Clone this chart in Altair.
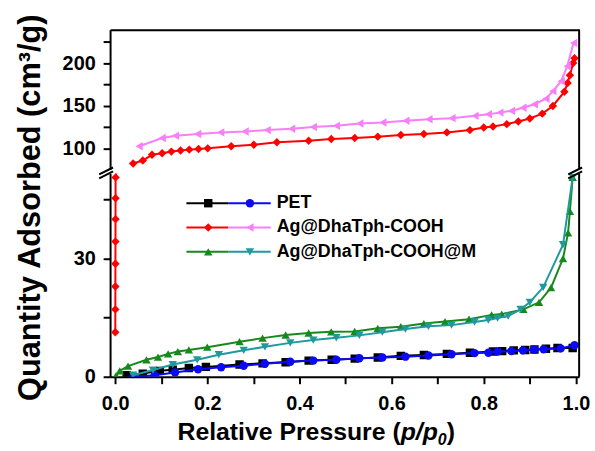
import altair as alt
import pandas as pd

# ---- isotherm data: relative pressure p/p0 and quantity adsorbed (cm3/g) ----
# PET
pet_ads_p = [0.025, 0.06, 0.097, 0.125, 0.16, 0.197, 0.27, 0.32, 0.37, 0.42, 0.47, 0.52, 0.57,
             0.62, 0.67, 0.72, 0.77, 0.82, 0.84, 0.865, 0.89, 0.91, 0.935, 0.96, 0.993]
pet_ads_v = [0.4, 0.8, 1.5, 1.8, 2.2, 2.5, 3.1, 3.4, 3.7, 4.1, 4.3, 4.6, 4.9,
             5.3, 5.5, 5.8, 6.1, 6.4, 6.5, 6.7, 6.8, 6.9, 7.1, 7.3, 7.3]
pet_des_p = [0.997, 0.967, 0.93, 0.91, 0.885, 0.86, 0.83, 0.81, 0.78, 0.73, 0.68, 0.63, 0.58,
             0.53, 0.48, 0.43, 0.38, 0.325, 0.279, 0.23, 0.18, 0.13, 0.086, 0.04]
pet_des_v = [8.0, 7.2, 7.0, 6.9, 6.7, 6.5, 6.4, 6.1, 6.0, 5.7, 5.4, 5.1, 4.9,
             4.7, 4.3, 4.1, 3.8, 3.3, 2.8, 2.4, 1.9, 1.1, 0.4, 0.0]

# Ag@DhaTph-COOH
ag_ads_p = [0.0003, 0.0004, 0.0005, 0.0006, 0.0007, 0.0008, 0.0009, 0.001,
            0.039, 0.06, 0.08, 0.102, 0.122, 0.142, 0.161, 0.181, 0.201, 0.252, 0.301, 0.351,
            0.42, 0.469, 0.52, 0.57, 0.62, 0.67, 0.72, 0.77, 0.80, 0.82, 0.85, 0.875, 0.90,
            0.927, 0.95, 0.975, 0.982, 0.987, 0.994, 0.997]
ag_ads_v = [11.3, 17.1, 22.9, 28.7, 34.3, 40.0, 45.3, 50.6,
            82.5, 86, 92.7, 94.6, 96.5, 97.7, 98.8, 99.6, 100.3, 102.7, 104.6, 107.4,
            109.3, 111.3, 112.4, 114, 115.9, 117.1, 119, 121.7, 124.8, 126, 128.7, 131.8, 135.3,
            141, 150, 166.7, 177, 186, 200.4, 206]
ag_des_p = [0.995, 0.981, 0.968, 0.95, 0.935, 0.91, 0.885, 0.86, 0.835, 0.81, 0.781, 0.731,
            0.681, 0.631, 0.581, 0.531, 0.48, 0.43, 0.383, 0.33, 0.282, 0.229, 0.179, 0.131,
            0.102, 0.052]
ag_des_v = [224, 196.5, 179, 167.4, 158.5, 152, 148, 144.2, 142.2, 140.3, 138.4, 135.7,
            134.5, 132.6, 130.6, 129.5, 126.7, 125.2, 123.2, 121.7, 120.1, 119, 117.1, 115.1,
            112.4, 102.7]

# Ag@DhaTph-COOH@M
agm_ads_p = [0.002, 0.01, 0.028, 0.068, 0.093, 0.115, 0.136, 0.16, 0.2, 0.27, 0.32, 0.37,
             0.42, 0.469, 0.52, 0.57, 0.62, 0.67, 0.716, 0.768, 0.817, 0.839, 0.886, 0.92,
             0.946, 0.972, 0.983, 0.987, 0.993]
agm_ads_v = [0.3, 1.5, 2.7, 4.3, 5.0, 5.8, 6.4, 6.8, 7.5, 8.9, 9.8, 10.6,
             11.1, 11.4, 11.5, 12.3, 12.7, 13.5, 14.0, 14.6, 15.7, 15.9, 17.1, 18.9,
             22.6, 30.0, 36.5, 42.0, 50.6]
agm_des_p = [0.993, 0.972, 0.929, 0.9, 0.88, 0.853, 0.83, 0.81, 0.78, 0.73, 0.68, 0.63,
             0.58, 0.53, 0.48, 0.43, 0.38, 0.325, 0.279, 0.225, 0.178, 0.125, 0.082, 0.039]
agm_des_v = [50.6, 33.5, 22.7, 18.9, 17.1, 15.4, 14.9, 14.4, 13.9, 13.1, 12.8, 12.1,
             11.3, 10.5, 9.9, 9.3, 8.6, 7.6, 6.7, 5.6, 4.3, 3.1, 1.7, 0.4]

legend_labels = ["PET", "Ag@DhaTph-COOH", "Ag@DhaTph-COOH@M"]

# ---- styling ----
FONT = "Liberation Sans"
BLACK, BLUE, RED, PINK, GREEN, TEAL = "#000000", "#0a0af5", "#ff0000", "#f77ff7", "#17891c", "#1f9a9c"
MARK_SIZE = 72

series = [
    # name, p, v, color, shape
    ("pet_ads", pet_ads_p, pet_ads_v, BLACK, "square"),
    ("pet_des", pet_des_p, pet_des_v, BLUE, "circle"),
    ("ag_ads", ag_ads_p, ag_ads_v, RED, "diamond"),
    ("ag_des", ag_des_p, ag_des_v, PINK, "triangle-left"),
    ("agm_ads", agm_ads_p, agm_ads_v, GREEN, "triangle-up"),
    ("agm_des", agm_des_p, agm_des_v, TEAL, "triangle-down"),
]

frames = {}
for name, ps, vs, _, _ in series:
    frames[name] = pd.DataFrame({"p": ps, "v": vs, "i": range(len(ps))})

W = 473
H_UP = 141
H_LO = 205
GAP = 4

x_scale = alt.Scale(domain=[-0.011, 1.007], nice=False, zero=False)
common_axis = dict(domainWidth=2, domainColor="black", tickWidth=2, tickColor="black",
                   tickSize=7, labelFont=FONT, labelFontWeight="bold", labelFontSize=20,
                   labelColor="black", grid=False, title=None)

x_up = alt.X("p:Q", scale=x_scale,
             axis=alt.Axis(orient="top", labels=False, ticks=False, domainWidth=2,
                           domainColor="black", grid=False, title=None))
x_lo = alt.X("p:Q", scale=x_scale,
             axis=alt.Axis(values=[0.0, 0.1, 0.2, 0.3, 0.4, 0.5, 0.6, 0.7, 0.8, 0.9, 1.0],
                           labelExpr="round(datum.value*10) % 2 == 0 ? format(datum.value, '.1f') : ''",
                           labelPadding=10, **common_axis))
y_up = alt.Y("v:Q", scale=alt.Scale(domain=[75.5, 239.5], nice=False, zero=False),
             axis=alt.Axis(values=[100, 125, 150, 175, 200, 225],
                           labelExpr="datum.value % 50 == 0 ? datum.label : ''",
                           labelPadding=8, **common_axis))
y_lo = alt.Y("v:Q", scale=alt.Scale(domain=[0, 51.6], nice=False, zero=False),
             axis=alt.Axis(values=[0, 15, 30, 45],
                           labelExpr="datum.value % 30 == 0 ? datum.label : ''",
                           labelPadding=8, **common_axis))


def series_layers(df, color, shape, xenc, yenc):
    base = alt.Chart(df).encode(x=xenc, y=yenc, order="i:Q")
    line = base.mark_line(color=color, strokeWidth=2, clip=True)
    pts = base.mark_point(color=color, shape=shape, filled=True, size=MARK_SIZE, opacity=1, clip=True)
    return [line, pts]


one = alt.Data(values=[{}])


def rule(x, x2, y, y2, width=2):
    return alt.Chart(one).mark_rule(color="black", strokeWidth=width).encode(
        x=alt.value(x), x2=alt.value(x2), y=alt.value(y), y2=alt.value(y2))


# ---- upper panel (high-pressure range of Ag@DhaTph-COOH) ----
up_layers = []
for name, _, _, color, shape in series:
    if name in ("ag_ads", "ag_des"):
        d = frames[name][frames[name]["v"] >= 60]
        up_layers += series_layers(d, color, shape, x_up, y_up)
up_layers.append(rule(W, W, 0, H_UP))
upper = alt.layer(*up_layers).properties(width=W, height=H_UP)

# ---- lower panel ----
lo_layers = []
for name, _, _, color, shape in series:
    lo_layers += series_layers(frames[name], color, shape, x_lo, y_lo)
lo_layers.append(rule(W, W, 0, H_LO))

# axis break marks on both sides
for ax in (0, W):
    lo_layers.append(rule(ax - 11, ax + 3, 1, -6))
    lo_layers.append(rule(ax - 11, ax + 3, 5, -2))

# legend
legend_colors = [(BLACK, BLUE), (RED, PINK), (GREEN, TEAL)]
legend_shapes = [("square", "circle"), ("diamond", "triangle-left"), ("triangle-up", "triangle-down")]
for k, label in enumerate(legend_labels):
    yy = 30 + 24.5 * k
    c1, c2 = legend_colors[k]
    s1, s2 = legend_shapes[k]
    lo_layers.append(alt.Chart(one).mark_rule(color=c1, strokeWidth=2).encode(
        x=alt.value(77), x2=alt.value(119), y=alt.value(yy)))
    lo_layers.append(alt.Chart(one).mark_rule(color=c2, strokeWidth=2).encode(
        x=alt.value(119), x2=alt.value(162), y=alt.value(yy)))
    lo_layers.append(alt.Chart(one).mark_point(color=c1, shape=s1, filled=True, size=MARK_SIZE, opacity=1).encode(
        x=alt.value(99), y=alt.value(yy)))
    lo_layers.append(alt.Chart(one).mark_point(color=c2, shape=s2, filled=True, size=MARK_SIZE, opacity=1).encode(
        x=alt.value(141), y=alt.value(yy)))
    lo_layers.append(alt.Chart(one).mark_text(
        text=label, font=FONT, fontWeight="bold", fontSize=18, align="left",
        baseline="middle", color="black").encode(x=alt.value(168), y=alt.value(yy)))

# axis titles
lo_layers.append(alt.Chart(one).mark_text(
    text="Quantity Adsorbed (cm³/g)", font=FONT, fontWeight="bold", fontSize=31,
    angle=270, align="center", baseline="middle", color="black").encode(
    x=alt.value(-80), y=alt.value(34.5)))
title_base = 269
lo_layers.append(alt.Chart(one).mark_text(
    text="Relative Pressure (", font=FONT, fontWeight="bold", fontSize=25,
    align="left", baseline="alphabetic", color="black").encode(
    x=alt.value(68), y=alt.value(title_base)))
lo_layers.append(alt.Chart(one).mark_text(
    text="p/p", font=FONT, fontWeight="bold", fontStyle="italic", fontSize=25,
    align="left", baseline="alphabetic", color="black").encode(
    x=alt.value(293), y=alt.value(title_base)))
lo_layers.append(alt.Chart(one).mark_text(
    text="0", font=FONT, fontWeight="bold", fontStyle="italic", fontSize=16,
    align="left", baseline="alphabetic", color="black").encode(
    x=alt.value(330.5), y=alt.value(title_base + 5)))
lo_layers.append(alt.Chart(one).mark_text(
    text=")", font=FONT, fontWeight="bold", fontSize=25,
    align="left", baseline="alphabetic", color="black").encode(
    x=alt.value(339.5), y=alt.value(title_base)))

lower = alt.layer(*lo_layers).properties(width=W, height=H_LO)

chart = alt.vconcat(upper, lower, spacing=GAP, bounds="flush").properties(
    padding={"left": 14, "top": 12, "right": 5, "bottom": 5},
    background="white",
).configure_view(stroke=None)

chart.save("out.html", embed_options={"renderer": "svg", "actions": False})
